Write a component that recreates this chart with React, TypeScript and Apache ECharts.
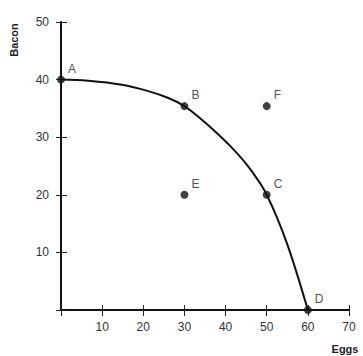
import React, { useEffect, useRef } from "react";
import * as echarts from "echarts";

const xTicks = [0, 10, 20, 30, 40, 50, 60, 70];
const yTicks = [0, 10, 20, 30, 40, 50];
const pointNames = ["A", "B", "C", "D", "E", "F"];
const pointEggs = [0, 30, 50, 60, 30, 50];
const pointBacon = [40, 35.4, 20, 0, 20, 35.4];
const curveEggs = [0, 6.6, 14.8, 21.2, 26.1, 30, 33.8, 37, 41.1, 45.1, 48.4, 50, 52.4, 54.9, 57.3, 59.3, 60];
const curveBacon = [40, 39.8, 39.1, 38, 36.8, 35.4, 33.3, 31.3, 28.5, 25.3, 22.0, 20, 16.2, 11.6, 6.4, 1.7, 0];

export default function App() {
  const ref = useRef<HTMLDivElement>(null);
  useEffect(() => {
    const chart = echarts.init(ref.current!, null, { renderer: "svg" });
    const font = "Liberation Sans, Arial, sans-serif";
    const axisCommon = {
      type: "value" as const,
      interval: 10,
      splitLine: { show: false },
    };
    chart.setOption({
      animation: false,
      backgroundColor: "#fff",
      grid: { left: 61, right: 14, top: 22, bottom: 46 },
      xAxis: [
        {
          ...axisCommon,
          min: xTicks[0],
          max: xTicks[xTicks.length - 1],
          position: "bottom",
          axisLine: { show: true, lineStyle: { color: "#111", width: 2 } },
          axisTick: { show: true, length: 6, lineStyle: { color: "#222", width: 1 } },
          axisLabel: {
            margin: 11,
            color: "#333",
            fontFamily: font,
            fontSize: 12,
            formatter: (v: number) => (v === 0 ? "" : String(v)),
          },
        },
        {
          ...axisCommon,
          min: xTicks[0],
          max: xTicks[xTicks.length - 1],
          position: "bottom",
          axisLine: { show: false },
          axisTick: { show: true, inside: true, length: 5, lineStyle: { color: "#222", width: 1 } },
          axisLabel: { show: false },
        },
      ],
      yAxis: [
        {
          ...axisCommon,
          min: yTicks[0],
          max: yTicks[yTicks.length - 1],
          position: "left",
          axisLine: { show: true, lineStyle: { color: "#111", width: 2 } },
          axisTick: { show: true, length: 5, lineStyle: { color: "#222", width: 1 } },
          axisLabel: {
            margin: 12,
            color: "#333",
            fontFamily: font,
            fontSize: 12,
            formatter: (v: number) => (v === 0 ? "" : String(v)),
          },
        },
        {
          ...axisCommon,
          min: yTicks[0],
          max: yTicks[yTicks.length - 1],
          position: "left",
          axisLine: { show: false },
          axisTick: { show: true, inside: true, length: 6, lineStyle: { color: "#222", width: 1 } },
          axisLabel: { show: false },
        },
      ],
      graphic: [
        {
          type: "text",
          x: 14,
          y: 40,
          rotation: Math.PI / 2,
          style: {
            text: "Bacon",
            font: "bold 11px " + font,
            fill: "#222",
            align: "center",
            verticalAlign: "middle",
          },
        },
        {
          type: "text",
          x: 345,
          y: 349,
          style: {
            text: "Eggs",
            font: "bold 11px " + font,
            fill: "#222",
            align: "center",
            verticalAlign: "middle",
          },
        },
      ],
      series: [
        {
          type: "line",
          data: curveEggs.map((x, i) => [x, curveBacon[i]]),
          smooth: 0.4,
          showSymbol: false,
          lineStyle: { color: "#111", width: 2 },
          silent: true,
        },
        {
          type: "scatter",
          data: pointNames.map((n, i) => ({ name: n, value: [pointEggs[i], pointBacon[i]] })),
          symbolSize: 8,
          itemStyle: { color: "#111" },
          label: {
            show: true,
            formatter: "{b}",
            position: "right",
            distance: 3,
            offset: [0, -11],
            color: "#222",
            fontFamily: font,
            fontSize: 12,
          },
          z: 5,
        },
      ],
    });
    return () => chart.dispose();
  }, []);
  return (
    <div
      ref={ref}
      style={{ position: "absolute", left: 0, top: 0, width: 363, height: 356 }}
    />
  );
}
